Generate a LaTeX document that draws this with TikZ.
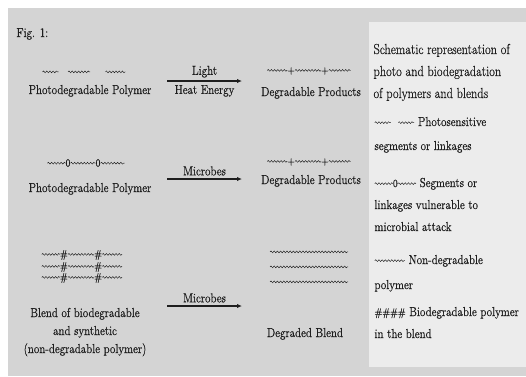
\documentclass[tikz,border=0pt]{standalone}
\usepackage{fontspec}
\setmainfont{Latin Modern Roman}[FakeStretch=0.85, FakeBold=0.6]
\usepackage{tikz}
\usetikzlibrary{positioning,calc,arrows.meta,decorations.pathmorphing}
\definecolor{figgray}{RGB}{212,212,212}
\definecolor{panelgray}{RGB}{236,236,236}
\definecolor{inkgray}{RGB}{30,30,30}
\tikzset{wave/.style={inkgray, line width=0.45pt, decorate, decoration={snake, amplitude=0.9pt, segment length=3.2pt}}}
\newcommand{\wv}[1]{\tikz[baseline=-0.6ex]\draw[wave] (0pt,0pt) -- (#1pt,0pt);}
\newcommand{\lnk}[1]{{\fontsize{11}{11}\selectfont #1}}

\begin{document}
\begin{tikzpicture}[
        x=1pt, y=-1pt,
        lbl/.style={text=inkgray, font=\fontsize{13}{18}\selectfont, align=center},
        legend/.style={text=inkgray, font=\fontsize{13}{22}\selectfont, align=left, anchor=base west},
        chain/.style={inner sep=0pt, text=inkgray, font=\fontsize{13}{15}\selectfont},
        arrow/.style={-{Latex[length=5pt,width=4.5pt]}, line width=1.6pt, inkgray}
    ]
        % Background and legend panel
        \useasboundingbox (0,0) rectangle (526,376);
        \fill[figgray] (8,8) rectangle (526,376);
        \fill[panelgray] (369,22) rectangle (526,367);

        \node (fig) [lbl, anchor=base west] at (13,37) {Fig. 1:};

        % Row 1: photodegradation
        \node (chainA) [chain] at (84,73) {\wv{16}\hspace{9pt}\wv{22}\hspace{15pt}\wv{20}};
        \node (polyA) [lbl, anchor=base] at (90,94) {Photodegradable Polymer};
        \coordinate (a1s) at (167,81);
        \coordinate (a1e) at (242,81);
        \coordinate (a1m) at ($(a1s)!0.5!(a1e)$);
        \draw [arrow] (a1s) -- (a1e);
        \node (light) [lbl, above=0pt of a1m] {Light};
        \node (heat) [lbl, below=0.5pt of a1m] {Heat Energy};
        \node (chainB) [chain] at (309,71) {\wv{20}\lnk{+}\wv{26}\lnk{+}\wv{22}};
        \node (prodA) [lbl, anchor=base] at (311,96) {Degradable Products};

        % Row 2: biodegradation
        \node (chainC) [chain] at (86,163) {\wv{18}\lnk{0}\wv{25}\lnk{0}\wv{24}};
        \node (polyB) [lbl, anchor=base] at (90,192) {Photodegradable Polymer};
        \coordinate (a2s) at (167,179);
        \coordinate (a2e) at (242,179);
        \coordinate (a2m) at ($(a2s)!0.5!(a2e)$);
        \draw [arrow] (a2s) -- (a2e);
        \node (microbA) [lbl, above=0pt of a2m] {Microbes};
        \node (chainD) [chain] at (309,162) {\wv{20}\lnk{+}\wv{26}\lnk{+}\wv{22}};
        \node (prodB) [lbl, anchor=base] at (311,184) {Degradable Products};

        % Row 3: blend
        \node (blendA) [chain] at (82,255) {\wv{18}\lnk{\#}\wv{26}\lnk{\#}\wv{20}};
        \node (blendB) [chain] at (82,267) {\wv{18}\lnk{\#}\wv{26}\lnk{\#}\wv{20}};
        \node (blendC) [chain] at (82,278) {\wv{18}\lnk{\#}\wv{26}\lnk{\#}\wv{20}};
        \node (blend) [lbl, anchor=base] at (85,353) {Blend of biodegradable\\and synthetic\\(non-degradable polymer)};
        \coordinate (a3s) at (167,306);
        \coordinate (a3e) at (242,306);
        \coordinate (a3m) at ($(a3s)!0.5!(a3e)$);
        \draw [arrow] (a3s) -- (a3e);
        \node (microbB) [lbl, above=0pt of a3m] {Microbes};
        \node (restA) [chain] at (309,253) {\wv{78}};
        \node (restB) [chain] at (309,268) {\wv{78}};
        \node (restC) [chain] at (309,283) {\wv{78}};
        \node (degr) [lbl, anchor=base] at (305,337) {Degraded Blend};

        % Legend
        \node (title) [legend, font=\fontsize{14.5}{22}\selectfont] at (370,98) {Schematic representation of\\photo and biodegradation\\of polymers and blends};
        \node (legA) [legend] at (371,150) {\wv{16}\hspace{7pt}\wv{16} Photosensitive\\[2pt]segments or linkages};
        \node (legB) [legend] at (371,231) {\wv{18}\lnk{0}\wv{18} Segments or\\linkages vulnerable to\\microbial attack};
        \node (legC) [legend] at (371,289) {\wv{30} Non-degradable\\[3pt]polymer};
        \node (legD) [legend] at (371,338) {\lnk{\#\#\#\#} Biodegradable polymer\\in the blend};
    \end{tikzpicture}
\end{document}
